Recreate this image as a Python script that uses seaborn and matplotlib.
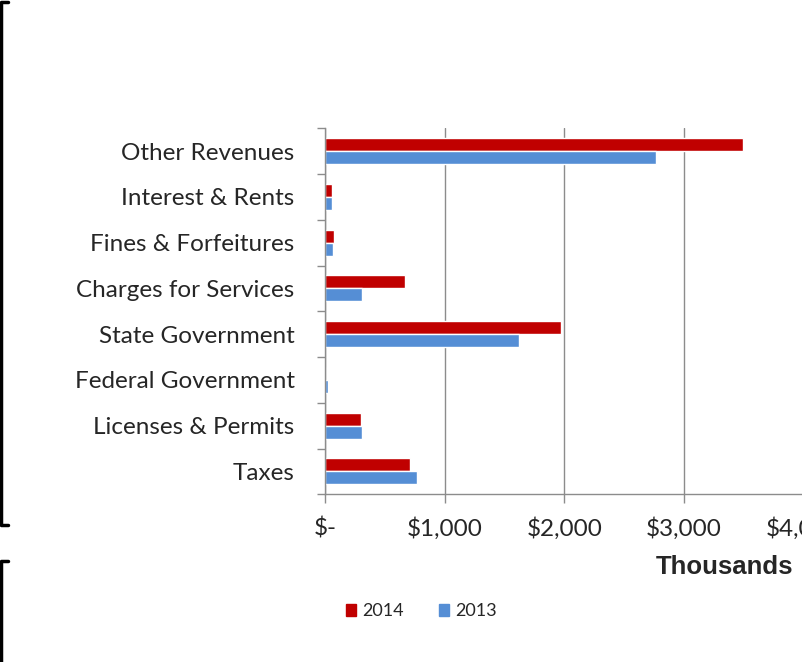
import numpy as np
import pandas as pd
import matplotlib
matplotlib.use("Agg")
import matplotlib.pyplot as plt
from matplotlib.lines import Line2D
from matplotlib.ticker import FuncFormatter, FixedLocator
import seaborn as sns

categories = ["Other Revenues", "Interest & Rents", "Fines & Forfeitures",
              "Charges for Services", "State Government", "Federal Government",
              "Licenses & Permits", "Taxes"]
rev_2014 = [3492, 53, 75, 665, 1974, 0, 302, 712]
rev_2013 = [2767, 59, 62, 310, 1625, 20, 305, 771]
years = ["2014", "2013"]
x_ticks = [0, 1000, 2000, 3000, 4000]

df = pd.DataFrame({
    "category": categories * 2,
    "year": [years[0]] * len(categories) + [years[1]] * len(categories),
    "value": rev_2014 + rev_2013,
})

sns.set_style("white")
plt.rcParams['font.family'] = ['Lato', 'DejaVu Sans']

W, H = 802, 662
fig = plt.figure(figsize=(W / 100, H / 100), dpi=100)
ax = fig.add_axes([325.3 / W, 1 - 494.3 / H, 478 / W, 366 / H])

pal = {"2014": "#C00000", "2013": "#558ED5"}
sns.barplot(data=df, y="category", x="value", hue="year", order=categories,
            hue_order=years, palette=pal, width=0.57, orient="h",
            saturation=1, ax=ax, legend=False)

ax.set_xlim(0, 4000)
ax.set_ylim(7.5, -0.5)
ax.set_xlabel("")
ax.set_ylabel("")

ax.xaxis.set_major_locator(FixedLocator(x_ticks))
ax.xaxis.set_major_formatter(FuncFormatter(lambda v, p: "$-" if v == 0 else "${:,.0f}".format(v)))
ax.grid(axis="x", color="#8c8c8c", linewidth=1)
ax.set_axisbelow(True)
ax.tick_params(axis="x", direction="out", length=6.5, color="#8c8c8c", width=1,
               pad=10, labelsize=17.5, bottom=True)
ax.tick_params(axis="y", which="major", length=0, pad=22, labelsize=17.5)
ax.yaxis.set_minor_locator(FixedLocator(np.arange(-0.5, 8, 1)))
ax.tick_params(axis="y", which="minor", direction="out", length=5.8,
               color="#8c8c8c", width=1, left=True)

for s in ["top", "right"]:
    ax.spines[s].set_visible(False)
for s in ["left", "bottom"]:
    ax.spines[s].set_color("#8c8c8c")
    ax.spines[s].set_linewidth(1)

fig.text(793 / W, 1 - 567 / H, "Thousands", ha="right", va="center",
         fontsize=18.5, fontweight="bold", family="Liberation Sans")

handles = [plt.Rectangle((0, 0), 1, 1, color=pal[y]) for y in years]
fig.legend(handles, years, loc="center", bbox_to_anchor=(421 / W, 1 - 611.5 / H),
           ncol=2, frameon=False, fontsize=13, handlelength=0.6, handleheight=0.6,
           handletextpad=0.3, columnspacing=1.95)

# bracket borders on the left
def fx(px):
    return px / W
def fy(py):
    return 1 - py / H
lw = 2.5
fig.add_artist(Line2D([fx(8), fx(1), fx(1), fx(8)], [fy(2), fy(2), fy(525), fy(525)],
                      color="black", linewidth=lw, transform=fig.transFigure))
fig.add_artist(Line2D([fx(8), fx(1), fx(1)], [fy(561), fy(561), fy(665)],
                      color="black", linewidth=lw, transform=fig.transFigure))

fig.savefig("out.png", dpi=100)
